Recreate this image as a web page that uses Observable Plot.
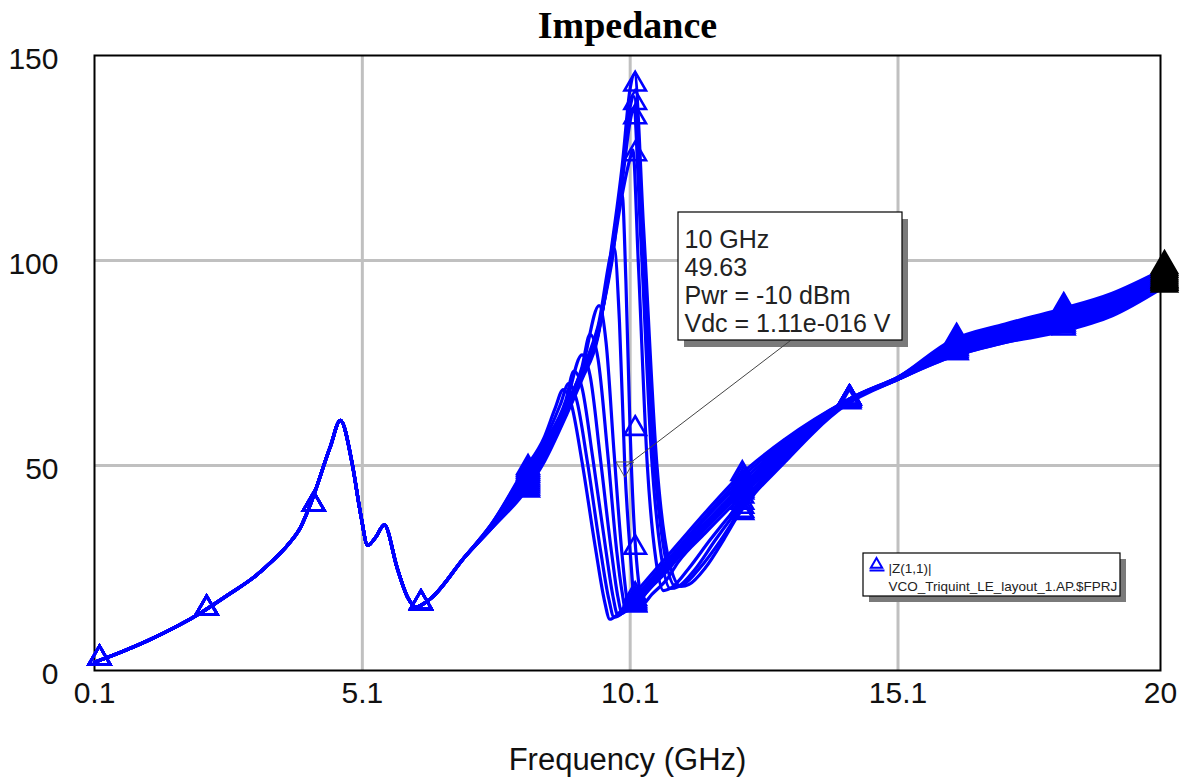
<!DOCTYPE html>
<html>
<head>
<meta charset="utf-8">
<script src="https://cdn.jsdelivr.net/npm/d3@7"></script>
<script src="https://cdn.jsdelivr.net/npm/@observablehq/plot@0.6"></script>
<style>
  html, body { margin: 0; padding: 0; background: #fff; }
  #chart { width: 1181px; height: 782px; }
</style>
</head>
<body>
<div id="chart"></div>
<script>
// ---------- text ----------
const title = "Impedance";
const xLabel = "Frequency (GHz)";
const xTicks = [0.1, 5.1, 10.1, 15.1, 20];
const xTickLabels = ["0.1", "5.1", "10.1", "15.1", "20"];
const yTicks = [0, 50, 100, 150];
const legendLines = ["|Z(1,1)|", "VCO_Triquint_LE_layout_1.AP.$FPRJ"];
const calloutLines = ["10 GHz", "49.63", "Pwr = -10 dBm", "Vdc = 1.11e-016 V"];
const calloutFreq = 10;
const calloutValue = 49.63;

// ---------- data ----------
// frequencies at which the trace markers sit
const markerFreqs = [0.1, 2.1, 4.1, 6.1, 8.1, 10.1, 12.1, 14.1, 16.1, 18.1];
const endFreq = 20;

// part of the sweep shared by every trace (0.1 – 7 GHz)
const baseFreq = [0.1, 0.6, 1.1, 1.6, 2.1, 2.6, 3.1, 3.4, 3.7, 3.95, 4.1, 4.5, 4.69, 4.91, 5.07, 5.2, 5.35, 5.51, 5.75, 5.94, 6.1, 6.37, 7.0];
const baseZ    = [2, 4.5, 7.3, 10.5, 14.2, 18.5, 23, 26.5, 30.5, 35, 39.5, 54.5, 61, 50.5, 38, 30.5, 32.5, 35.5, 25, 18, 15.5, 17.5, 27.5];

// per-trace part of the sweep (7.5 – 20 GHz)
const tailFreqs = [
  [7.5, 8.1, 8.5, 8.7, 8.85, 9.0, 9.2, 9.45, 9.62, 9.72, 9.85, 10.1, 10.3, 10.7, 11.0, 11.5, 12.1, 13.0, 14.1, 15.1, 16.1, 17.1, 18.1, 19.1, 20],
  [7.5, 8.1, 8.5, 8.8, 8.95, 9.1, 9.3, 9.55, 9.7, 9.8, 9.95, 10.1, 10.3, 10.7, 11.0, 11.5, 12.1, 13.0, 14.1, 15.1, 16.1, 17.1, 18.1, 19.1, 20],
  [7.5, 8.1, 8.5, 8.9, 9.05, 9.2, 9.4, 9.65, 9.78, 9.87, 10.0, 10.1, 10.3, 10.7, 11.0, 11.5, 12.1, 13.0, 14.1, 15.1, 16.1, 17.1, 18.1, 19.1, 20],
  [7.5, 8.1, 8.5, 8.9, 9.2, 9.35, 9.55, 9.75, 9.87, 9.95, 10.1, 10.3, 10.7, 11.0, 11.5, 12.1, 13.0, 14.1, 15.1, 16.1, 17.1, 18.1, 19.1, 20],
  [7.5, 8.1, 8.5, 8.9, 9.2, 9.35, 9.5, 9.68, 9.85, 9.95, 10.02, 10.1, 10.3, 10.7, 11.0, 11.5, 12.1, 13.0, 14.1, 15.1, 16.1, 17.1, 18.1, 19.1, 20],
  [7.5, 8.1, 8.5, 8.9, 9.2, 9.52, 9.65, 9.8, 9.95, 10.05, 10.1, 10.3, 10.7, 11.0, 11.5, 12.1, 13.0, 14.1, 15.1, 16.1, 17.1, 18.1, 19.1, 20],
  [7.5, 8.1, 8.5, 8.9, 9.2, 9.5, 9.8, 9.9, 10.0, 10.1, 10.2, 10.4, 10.7, 11.0, 11.5, 12.1, 13.0, 14.1, 15.1, 16.1, 17.1, 18.1, 19.1, 20],
  [7.5, 8.1, 8.5, 8.9, 9.2, 9.5, 9.75, 9.95, 10.02, 10.1, 10.2, 10.35, 10.5, 10.8, 11.0, 11.5, 12.1, 13.0, 14.1, 15.1, 16.1, 17.1, 18.1, 19.1, 20],
  [7.5, 8.1, 8.5, 8.9, 9.2, 9.5, 9.75, 9.95, 10.1, 10.15, 10.25, 10.42, 10.58, 10.72, 10.9, 11.2, 11.6, 12.1, 13.0, 14.1, 15.1, 16.1, 17.1, 18.1, 19.1, 20],
  [7.5, 8.1, 8.5, 8.9, 9.2, 9.5, 9.75, 9.95, 10.1, 10.16, 10.3, 10.5, 10.68, 10.85, 11.0, 11.3, 11.7, 12.1, 13.0, 14.1, 15.1, 16.1, 17.1, 18.1, 19.1, 20],
  [7.5, 8.1, 8.5, 8.9, 9.2, 9.5, 9.75, 9.95, 10.1, 10.17, 10.32, 10.55, 10.75, 10.95, 11.1, 11.4, 11.8, 12.1, 13.0, 14.1, 15.1, 16.1, 17.1, 18.1, 19.1, 20],
  [7.5, 8.1, 8.5, 8.9, 9.2, 9.5, 9.75, 9.95, 10.1, 10.18, 10.35, 10.6, 10.82, 11.05, 11.2, 11.5, 11.85, 12.1, 13.0, 14.1, 15.1, 16.1, 17.1, 18.1, 19.1, 20]
];
const tailZs = [
  [35.5, 48.5, 57, 64, 68.5, 65, 51, 30, 17, 12.5, 13.5, 17.5, 20.5, 26.5, 31, 38.5, 47, 56.5, 65.5, 71.5, 80.5, 84.5, 88, 92, 97.5],
  [35.5, 48, 56, 65, 70, 66, 51, 29, 17.5, 13, 14, 16.5, 19.5, 25.5, 30, 37.5, 46, 56, 65.5, 71.5, 80, 84, 87.5, 91.5, 97],
  [35.5, 47.5, 55.5, 66, 73, 69, 52, 29, 18, 13.5, 14.5, 16, 19, 25, 29.5, 37, 45, 55.5, 65.5, 71.5, 79.5, 83.5, 87, 91, 96.5],
  [35, 47, 55, 65, 77, 72, 51, 29, 18, 14, 15.5, 18.5, 24.5, 29, 36, 44, 55, 65.5, 71.5, 79, 83, 86.5, 90.5, 96],
  [35, 46.5, 54.5, 64.5, 74, 82, 76, 53, 29, 19, 14.5, 15, 18, 24, 28.5, 35.5, 43.5, 54.5, 65.5, 71.5, 78.5, 82.5, 86, 90, 95.5],
  [35, 46, 54, 64.5, 73.5, 89, 80, 53, 28, 16.5, 15, 17.5, 23.5, 28, 35, 43, 54, 65.5, 71.5, 78.5, 82.5, 85.5, 89.5, 95],
  [35, 45.5, 53.5, 64, 73, 84, 103, 85, 49.63, 29, 15.5, 19, 23, 27.5, 34.5, 42.5, 53.5, 65.5, 71.5, 78, 82, 85, 89, 94.5],
  [35, 45, 53, 63.5, 72.5, 83.5, 99, 116, 95, 58, 30, 16.5, 18.5, 22.5, 26.5, 33.5, 41.5, 53, 65.5, 71, 77.5, 81.5, 84.5, 88.5, 94],
  [35, 44.5, 52.5, 63, 72, 82.5, 100, 116, 125, 127, 100, 50, 27, 19.5, 20.5, 25, 32, 40, 52.5, 65, 71, 77.5, 81, 84, 88, 94],
  [34.5, 44, 52, 62.5, 71.5, 82, 101, 119, 134, 137, 105, 52, 28, 20, 20.5, 24.5, 32, 39, 52, 65, 71, 77, 80.5, 83.5, 87.5, 93.5],
  [34.5, 43.5, 51.5, 62.5, 71.5, 82, 102, 121, 137.5, 140, 106, 51, 28, 20.5, 21, 25, 32, 38, 51.5, 65, 71, 76.5, 80, 83, 87, 93.5],
  [34.5, 43, 51, 62, 71, 81.5, 103, 123, 142, 145.5, 108, 50, 27, 20.5, 21, 25, 32, 37.5, 51, 64.5, 71, 76.5, 80, 82.5, 86.5, 93]
];

// ---------- layout (pixels) ----------
const W = 1181, H = 782;
const M = {left: 94, right: 21, top: 55, bottom: 112};
const calloutPx = {left: 678, right: 902, top: 212, bottom: 340};
const legendPx = {left: 863, right: 1120, top: 553, bottom: 596};
const legendIconPx = {x1: 869, x2: 884, y: 570, tx: 876, ty: 564};
const BLUE = "#0000ff";

// pixel -> data helpers matching Plot's own ranges (for annotation placement)
const px2x = d3.scaleLinear([M.left, W - M.right], [0.1, 20]);
const py2y = d3.scaleLinear([H - M.bottom, M.top], [0, 150]);

// ---------- tables ----------
const rows = [];
tailFreqs.forEach((tf, k) => {
  const fs = baseFreq.concat(tf);
  const zs = baseZ.concat(tailZs[k]);
  fs.forEach((f, i) => rows.push({curve: k, f, z: zs[i]}));
});
const isMarker = f => markerFreqs.some(m => Math.abs(m - f) < 1e-9);
const markerRows = rows.filter(d => isMarker(d.f));
const endRows = rows.filter(d => Math.abs(d.f - endFreq) < 1e-9);

const box = {
  x1: px2x(calloutPx.left), x2: px2x(calloutPx.right),
  y1: py2y(calloutPx.bottom), y2: py2y(calloutPx.top)
};
const lbox = {
  x1: px2x(legendPx.left), x2: px2x(legendPx.right),
  y1: py2y(legendPx.bottom), y2: py2y(legendPx.top)
};
const licon = {
  x1: px2x(legendIconPx.x1), x2: px2x(legendIconPx.x2), y: py2y(legendIconPx.y),
  tx: px2x(legendIconPx.tx), ty: py2y(legendIconPx.ty)
};
const tickLabel = new Map(xTicks.map((t, i) => [t, xTickLabels[i]]));

const plot = Plot.plot({
  width: W, height: H,
  marginLeft: M.left, marginRight: M.right, marginTop: M.top, marginBottom: M.bottom,
  x: {domain: [0.1, 20]},
  y: {domain: [0, 150]},
  style: {fontFamily: "'Liberation Sans', Arial, sans-serif", background: "#fff", color: "#111", overflow: "visible"},
  marks: [
    Plot.gridX(xTicks.slice(1, -1), {stroke: "#c0c0c0", strokeOpacity: 1, strokeWidth: 3}),
    Plot.gridY(yTicks.slice(1, -1), {stroke: "#c0c0c0", strokeOpacity: 1, strokeWidth: 3}),
    Plot.frame({stroke: "#000", strokeWidth: 2}),
    Plot.line(rows, {x: "f", y: "z", z: "curve", stroke: BLUE, strokeWidth: 3.2, curve: "monotone-x"}),
    Plot.dot(markerRows, {x: "f", y: "z", symbol: "triangle", r: 8, stroke: BLUE, strokeWidth: 2.6, fill: "none", dx: 5, dy: -4}),
    Plot.dot(endRows, {x: "f", y: "z", symbol: "triangle", r: 9, stroke: "#000", strokeWidth: 3, fill: "#000", dx: 4, dy: -5}),
    Plot.axisX(xTicks, {tickSize: 0, tickPadding: 11, fontSize: 30, tickFormat: d => tickLabel.get(d), label: null}),
    Plot.axisY(yTicks, {tickSize: 0, tickPadding: 36, fontSize: 30, dy: 4, label: null}),
    Plot.text([title], {frameAnchor: "top", lineAnchor: "middle", dy: -30, fontSize: 38, fontWeight: "bold", fontFamily: "'Liberation Serif', 'Times New Roman', serif", fill: "#000"}),
    Plot.text([xLabel], {frameAnchor: "bottom", lineAnchor: "middle", dy: 90, fontSize: 31, fill: "#111"}),
    // callout
    Plot.rect([box], {x1: "x1", x2: "x2", y1: "y1", y2: "y2", fill: "#7a7a7a", dx: 6, dy: 7}),
    Plot.link([box], {x1: () => calloutFreq, y1: () => calloutValue, x2: d => (d.x1 + d.x2) / 2, y2: "y1", stroke: "#444", strokeWidth: 1}),
    Plot.rect([box], {x1: "x1", x2: "x2", y1: "y1", y2: "y2", fill: "#fff", stroke: "#000", strokeWidth: 1.2}),
    Plot.text([calloutLines.join("\n")], {x: () => box.x1, y: () => box.y2, dx: 6, dy: 16, textAnchor: "start", lineAnchor: "top", lineHeight: 1.12, fontSize: 25, fill: "#222"}),
    Plot.dot([0], {x: () => calloutFreq, y: () => calloutValue, symbol: "triangle", rotate: 180, r: 6.5, stroke: "#555", strokeWidth: 1, fill: "none"}),
    // legend
    Plot.rect([lbox], {x1: "x1", x2: "x2", y1: "y1", y2: "y2", fill: "#7a7a7a", dx: 6, dy: 6}),
    Plot.rect([lbox], {x1: "x1", x2: "x2", y1: "y1", y2: "y2", fill: "#fff", stroke: "#000", strokeWidth: 1.2}),
    Plot.link([licon], {x1: "x1", x2: "x2", y1: "y", y2: "y", stroke: BLUE, strokeWidth: 2}),
    Plot.dot([licon], {x: "tx", y: "ty", symbol: "triangle", r: 4.2, stroke: BLUE, strokeWidth: 2, fill: "none"}),
    Plot.text([legendLines.join("\n")], {x: () => lbox.x1, y: () => lbox.y2, dx: 25, dy: 7, textAnchor: "start", lineAnchor: "top", lineHeight: 1.33, fontSize: 13.5, fill: "#222"})
  ]
});
document.getElementById("chart").appendChild(plot);
</script>
</body>
</html>
